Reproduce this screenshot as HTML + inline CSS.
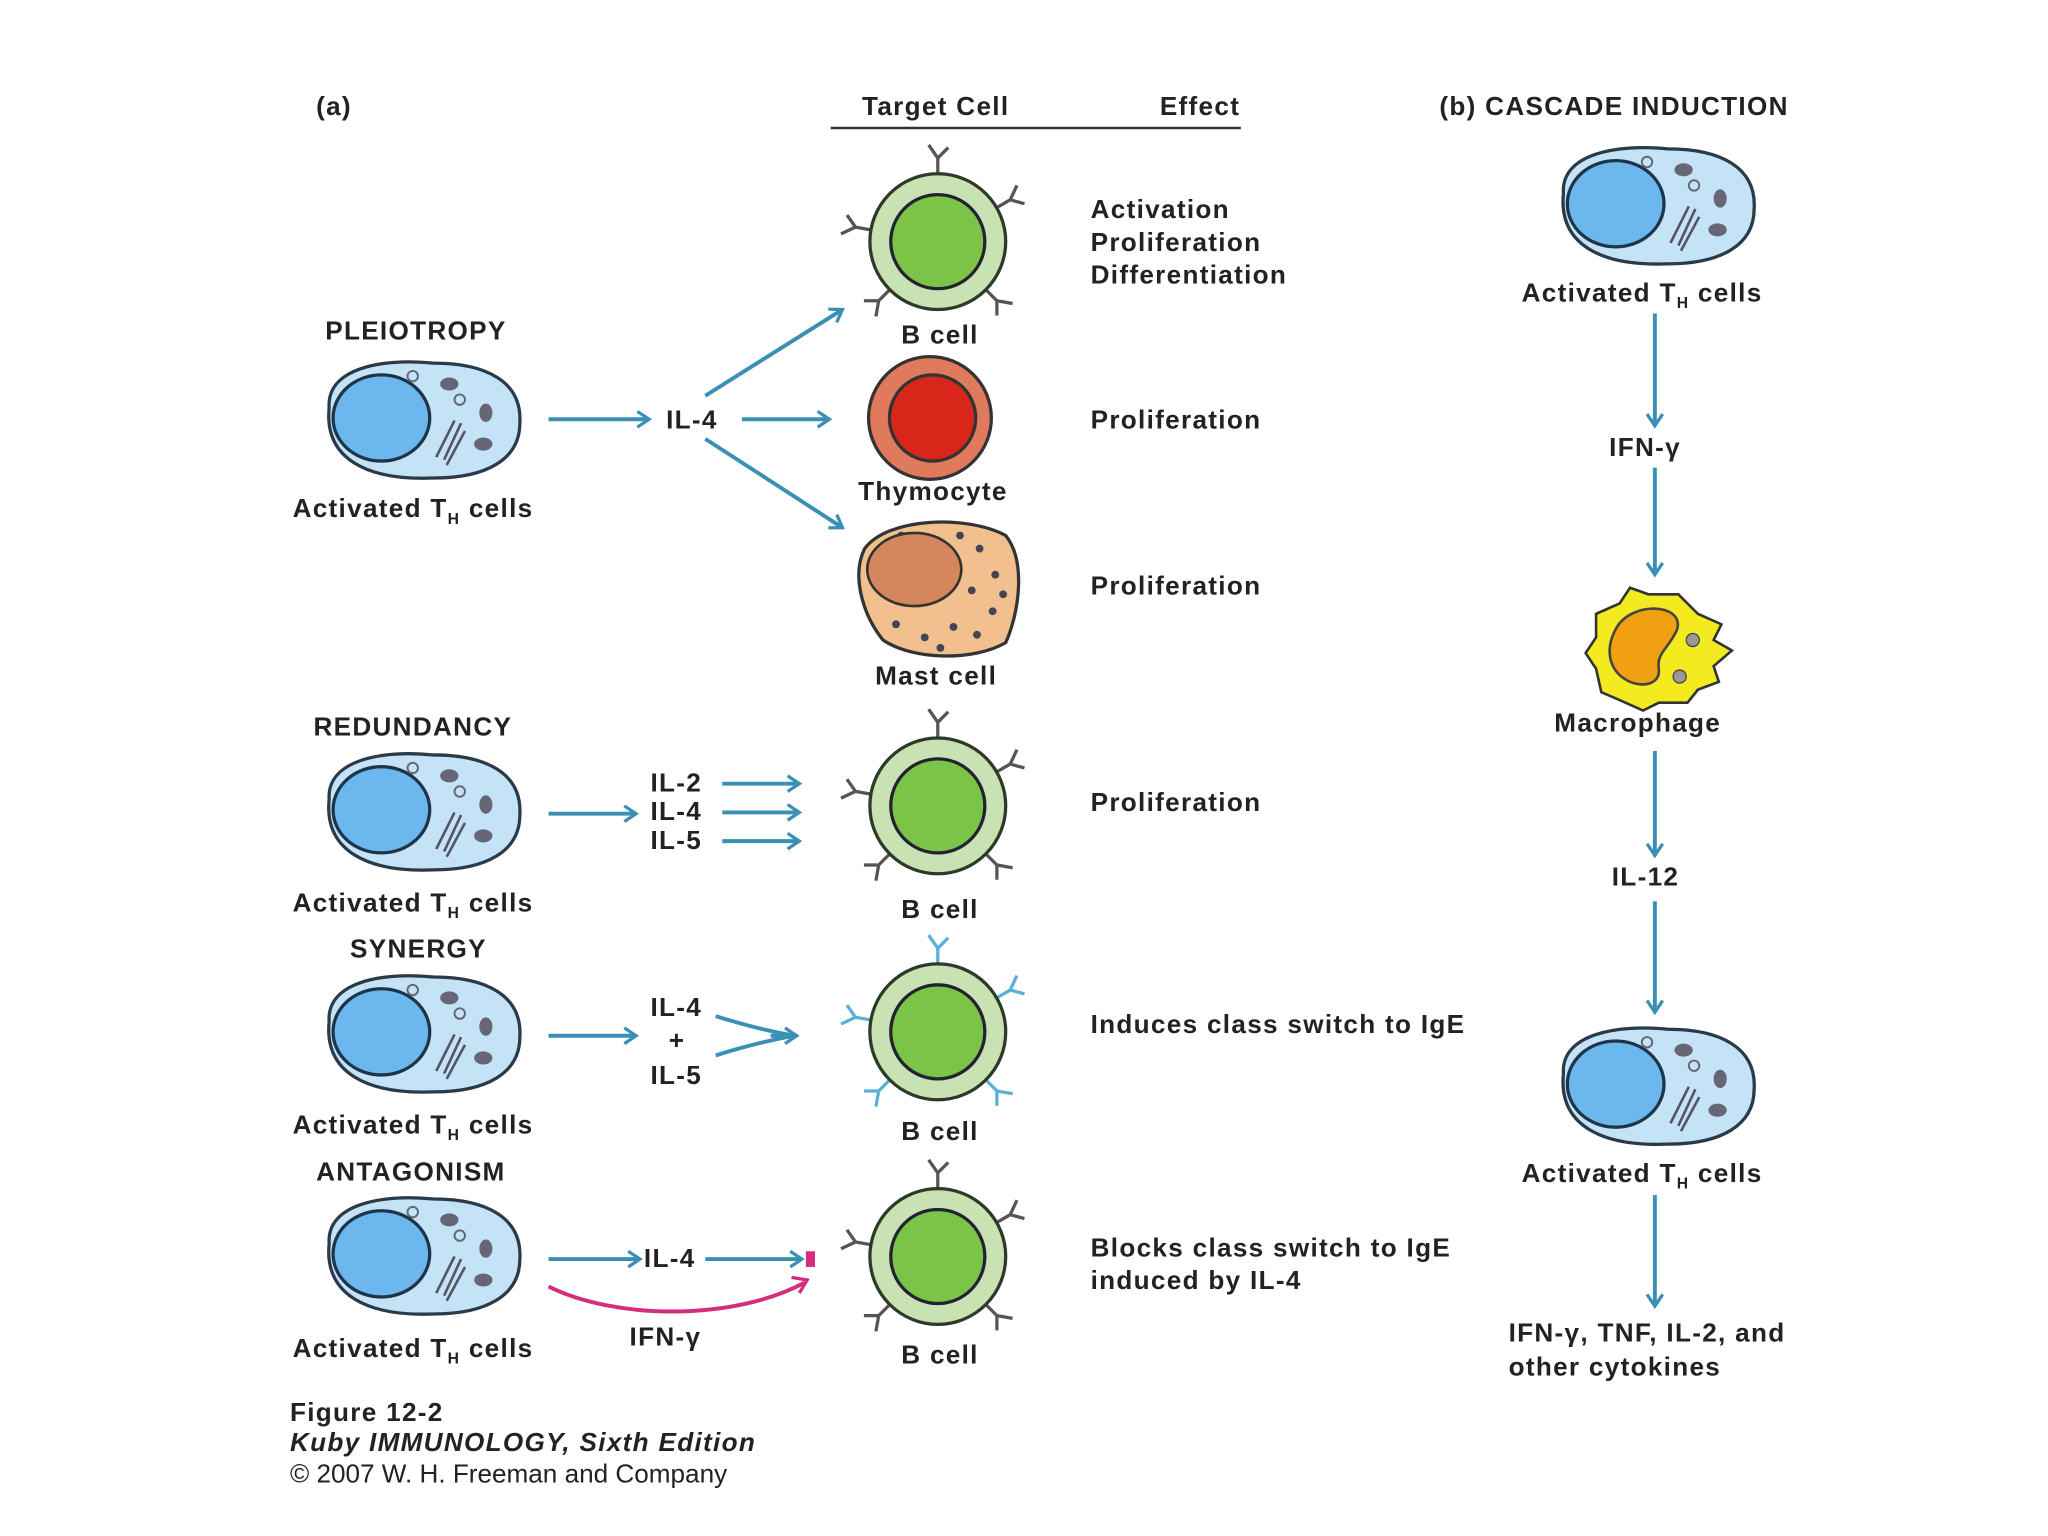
<!DOCTYPE html>
<html><head><meta charset="utf-8"><style>
html,body{margin:0;padding:0;background:#fff;}
svg{display:block;}
text{font-family:"Liberation Sans","DejaVu Sans",sans-serif;font-weight:bold;fill:#222;font-size:20px;letter-spacing:1px;}
</style></head><body>
<svg width="2048" height="1536" viewBox="0 0 1568 1176" xmlns="http://www.w3.org/2000/svg">
<defs>
<marker id="ah" markerWidth="14" markerHeight="14" refX="11" refY="7" orient="auto" markerUnits="userSpaceOnUse">
<path d="M2,1 L11,7 L2,13" fill="none" stroke="#3a8fb5" stroke-width="2.5"/>
</marker>
<g id="tc">
<path d="M-70,-10 C-72,-40 -30,-48 10,-44 C50,-44 78,-30 76,2 C76,30 50,44 10,44 C-40,46 -74,30 -70,-10Z" fill="#c5e3f6" stroke="#2a3a48" stroke-width="2.5"/>
<ellipse cx="-30" cy="-2" rx="37" ry="33" fill="#6cb8ee" stroke="#1e3448" stroke-width="2.5"/>
<ellipse cx="22" cy="-28" rx="7" ry="5" fill="#667" />
<ellipse cx="50" cy="-6" rx="5" ry="7" fill="#667"/>
<ellipse cx="48" cy="18" rx="7" ry="5" fill="#667"/>
<circle cx="-6" cy="-34" r="4" fill="none" stroke="#667" stroke-width="1.5"/>
<circle cx="30" cy="-16" r="4" fill="none" stroke="#667" stroke-width="1.5"/>
<path d="M12,28 L26,0 M18,30 L31,2 M20,34 L34,8" stroke="#556" stroke-width="2" fill="none"/>
</g>
<g id="rec">
<path d="M0,-52 L0,-64 M0,-64 L-7,-74 M0,-64 L8,-72" stroke="#555" stroke-width="2.5" fill="none"/>
</g>
<g id="bc">
<use href="#rec"/>
<use href="#rec" transform="rotate(60)"/>
<use href="#rec" transform="rotate(135)"/>
<use href="#rec" transform="rotate(-135)"/>
<use href="#rec" transform="rotate(-80)"/>
<circle r="52" fill="#c9e2b3" stroke="#2d3a2a" stroke-width="2.5"/>
<circle r="36" fill="#7cc447" stroke="#223" stroke-width="2.5"/>
</g>
<g id="bcb">
<g stroke="#5ab0d8" stroke-width="2.5" fill="none">
<path d="M0,-52 L0,-64 L-7,-74 M0,-64 L8,-72"/>
<path d="M0,-52 L0,-64 L-7,-74 M0,-64 L8,-72" transform="rotate(60)"/>
<path d="M0,-52 L0,-64 L-7,-74 M0,-64 L8,-72" transform="rotate(135)"/>
<path d="M0,-52 L0,-64 L-7,-74 M0,-64 L8,-72" transform="rotate(-135)"/>
<path d="M0,-52 L0,-64 L-7,-74 M0,-64 L8,-72" transform="rotate(-80)"/>
</g>
<circle r="52" fill="#c9e2b3" stroke="#2d3a2a" stroke-width="2.5"/>
<circle r="36" fill="#7cc447" stroke="#223" stroke-width="2.5"/>
</g>
</defs>

<text x="242" y="88">(a)</text>
<text x="660" y="88">Target Cell</text>
<text x="888" y="88">Effect</text>
<line x1="636" y1="98" x2="950" y2="98" stroke="#333" stroke-width="2"/>
<text x="1102" y="88">(b) CASCADE INDUCTION</text>

<!-- Pleiotropy -->
<text x="249" y="260">PLEIOTROPY</text>
<use href="#tc" x="322" y="322"/>
<text x="224" y="396">Activated T<tspan font-size="12" dy="5">H</tspan><tspan dy="-5"> cells</tspan></text>
<g stroke="#3a8fb5" stroke-width="3" fill="none" marker-end="url(#ah)">
<line x1="420" y1="321" x2="497" y2="321"/>
<line x1="568" y1="321" x2="635" y2="321"/>
<line x1="540" y1="303" x2="645" y2="237"/>
<line x1="540" y1="336" x2="645" y2="404"/>
</g>
<text x="510" y="328">IL-4</text>
<use href="#bc" x="718" y="185"/>
<text x="690" y="263">B cell</text>
<text x="835" y="167">Activation</text>
<text x="835" y="192">Proliferation</text>
<text x="835" y="217">Differentiation</text>
<circle cx="712" cy="320" r="47" fill="#e07a5c" stroke="#333" stroke-width="2.5"/>
<circle cx="714" cy="320" r="33" fill="#d9261a" stroke="#333" stroke-width="2.5"/>
<text x="657" y="383">Thymocyte</text>
<text x="835" y="328">Proliferation</text>
<path d="M662,420 C680,396 740,394 770,410 C786,430 780,470 770,492 C746,506 700,506 676,490 C660,470 652,440 662,420Z" fill="#f2c08f" stroke="#333" stroke-width="2.5"/>
<g fill="#445"><circle cx="750" cy="420" r="3"/><circle cx="762" cy="440" r="3"/><circle cx="744" cy="452" r="3"/><circle cx="760" cy="468" r="3"/><circle cx="730" cy="480" r="3"/><circle cx="708" cy="488" r="3"/><circle cx="686" cy="478" r="3"/><circle cx="748" cy="486" r="3"/><circle cx="768" cy="455" r="3"/><circle cx="735" cy="410" r="3"/><circle cx="690" cy="410" r="3"/><circle cx="720" cy="496" r="3"/></g>
<ellipse cx="700" cy="436" rx="36" ry="28" fill="#d4875c" stroke="#333" stroke-width="2"/>
<text x="670" y="524">Mast cell</text>
<text x="835" y="455">Proliferation</text>

<!-- Redundancy -->
<text x="240" y="563">REDUNDANCY</text>
<use href="#tc" x="322" y="622"/>
<text x="224" y="698">Activated T<tspan font-size="12" dy="5">H</tspan><tspan dy="-5"> cells</tspan></text>
<g stroke="#3a8fb5" stroke-width="3" fill="none" marker-end="url(#ah)">
<line x1="420" y1="623" x2="487" y2="623"/>
<line x1="553" y1="600" x2="612" y2="600"/>
<line x1="553" y1="622" x2="612" y2="622"/>
<line x1="553" y1="644" x2="612" y2="644"/>
</g>
<text x="498" y="606">IL-2</text>
<text x="498" y="628">IL-4</text>
<text x="498" y="650">IL-5</text>
<use href="#bc" x="718" y="617"/>
<text x="690" y="703">B cell</text>
<text x="835" y="621">Proliferation</text>

<!-- Synergy -->
<text x="268" y="733">SYNERGY</text>
<use href="#tc" x="322" y="792"/>
<text x="224" y="868">Activated T<tspan font-size="12" dy="5">H</tspan><tspan dy="-5"> cells</tspan></text>
<g stroke="#3a8fb5" stroke-width="3" fill="none">
<line x1="420" y1="793" x2="487" y2="793" marker-end="url(#ah)"/>
<path d="M548,778 Q580,788 608,793 M548,808 Q580,798 608,793"/>
<line x1="590" y1="793" x2="610" y2="793" marker-end="url(#ah)"/>
</g>
<text x="498" y="778">IL-4</text>
<text x="512" y="803">+</text>
<text x="498" y="830">IL-5</text>
<use href="#bcb" x="718" y="790"/>
<text x="690" y="873">B cell</text>
<text x="835" y="791">Induces class switch to IgE</text>

<!-- Antagonism -->
<text x="242" y="904">ANTAGONISM</text>
<use href="#tc" x="322" y="962"/>
<text x="224" y="1039">Activated T<tspan font-size="12" dy="5">H</tspan><tspan dy="-5"> cells</tspan></text>
<g stroke="#3a8fb5" stroke-width="3" fill="none" marker-end="url(#ah)">
<line x1="420" y1="964" x2="490" y2="964"/>
<line x1="540" y1="964" x2="614" y2="964"/>
</g>
<text x="493" y="970">IL-4</text>
<path d="M420,985 C470,1010 560,1012 616,982" stroke="#d62c7c" stroke-width="3" fill="none"/>
<path d="M606,978 L618,980 L612,990" stroke="#d62c7c" stroke-width="2.5" fill="none"/>
<rect x="617" y="958" width="7" height="12" fill="#d62c7c"/>
<text x="482" y="1030">IFN-γ</text>
<use href="#bc" x="718" y="962"/>
<text x="690" y="1044">B cell</text>
<text x="835" y="962">Blocks class switch to IgE</text>
<text x="835" y="987">induced by IL-4</text>

<text x="222" y="1088">Figure 12-2</text>
<text x="222" y="1111" font-style="italic" font-size="17">Kuby IMMUNOLOGY, Sixth Edition</text>
<text x="222" y="1135" font-size="17" style="font-weight:normal;letter-spacing:0">© 2007 W. H. Freeman and Company</text>

<!-- Cascade -->
<use href="#tc" x="1267" y="158"/>
<text x="1165" y="231">Activated T<tspan font-size="12" dy="5">H</tspan><tspan dy="-5"> cells</tspan></text>
<g stroke="#3a8fb5" stroke-width="3" fill="none" marker-end="url(#ah)">
<line x1="1267" y1="240" x2="1267" y2="326"/>
<line x1="1267" y1="358" x2="1267" y2="440"/>
<line x1="1267" y1="575" x2="1267" y2="655"/>
<line x1="1267" y1="690" x2="1267" y2="775"/>
<line x1="1267" y1="915" x2="1267" y2="1000"/>
</g>
<text x="1232" y="349">IFN-γ</text>
<path d="M1222,470 L1240,462 L1248,450 L1262,455 L1285,455 L1300,470 L1318,478 L1312,490 L1326,498 L1312,510 L1316,522 L1300,528 L1292,538 L1270,538 L1258,544 L1240,536 L1226,530 L1222,512 L1214,500 L1222,488Z" fill="#f4ea20" stroke="#333" stroke-width="2"/>
<path d="M1238,480 C1250,460 1290,462 1284,482 C1278,496 1268,500 1270,512 C1272,528 1246,528 1236,512 C1230,502 1232,490 1238,480Z" fill="#f0a010" stroke="#444" stroke-width="2"/>
<circle cx="1296" cy="490" r="5" fill="#999" stroke="#444"/>
<circle cx="1286" cy="518" r="5" fill="#999" stroke="#444"/>
<text x="1190" y="560">Macrophage</text>
<text x="1234" y="678">IL-12</text>
<use href="#tc" x="1267" y="832"/>
<text x="1165" y="905">Activated T<tspan font-size="12" dy="5">H</tspan><tspan dy="-5"> cells</tspan></text>
<text x="1155" y="1027">IFN-γ, TNF, IL-2, and</text>
<text x="1155" y="1053">other cytokines</text>
</svg>
</body></html>
